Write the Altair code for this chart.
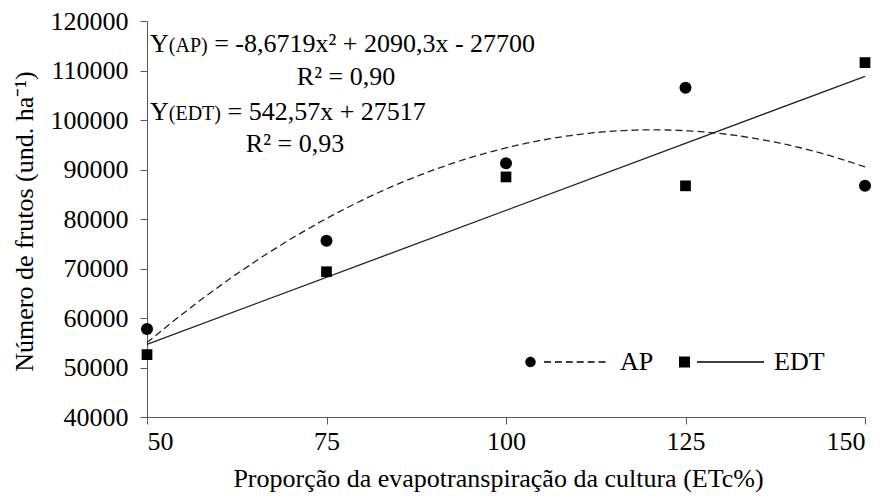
import altair as alt
import pandas as pd

# ---- data ----
x_etc = [50, 75, 100, 125, 150]
ap_values = [57800, 75600, 91250, 106500, 86700]
edt_values = [52600, 69350, 88500, 86700, 111600]
series_names = ["AP", "EDT"]
x_ticks = [50, 75, 100, 125, 150]
y_ticks = [40000, 50000, 60000, 70000, 80000, 90000, 100000, 110000, 120000]
eq_ap = "= -8,6719x² + 2090,3x - 27700"
r2_ap = "R² = 0,90"
eq_edt = "= 542,57x + 27517"
r2_edt = "R² = 0,93"
x_title = "Proporção da evapotranspiração da cultura (ETc%)"
y_title = "Número de frutos (und. ha⁻¹)"

df = pd.DataFrame({
    "x": x_etc + x_etc,
    "y": ap_values + edt_values,
    "serie": [series_names[0]] * len(x_etc) + [series_names[1]] * len(x_etc),
})

FONT = "'Liberation Serif', 'Times New Roman', Times, serif"
AX = "#595959"
W, H = 718, 396
FA = 26

xs = alt.Scale(domain=[x_ticks[0], x_ticks[-1]], nice=False, zero=False)
ys = alt.Scale(domain=[y_ticks[0], y_ticks[-1]], nice=False, zero=False)

x_enc = alt.X("x:Q", scale=xs, axis=alt.Axis(
    values=x_ticks, grid=False, domainColor=AX, tickColor=AX, tickSize=7,
    labelFont=FONT, labelFontSize=FA, labelColor="#000", labelPadding=4,
    title=x_title, titleFont=FONT, titleFontSize=FA, titleFontWeight="normal",
    titleColor="#000", titleBaseline="middle", titleY=61, titleX=351))
y_enc = alt.Y("y:Q", scale=ys, axis=alt.Axis(
    values=y_ticks, format="d", grid=False, domainColor=AX, tickColor=AX, tickSize=7,
    labelFont=FONT, labelFontSize=FA, labelColor="#000", labelPadding=12,
    title=y_title, titleFont=FONT, titleFontSize=FA, titleFontWeight="normal",
    titleColor="#000", titleBaseline="middle", titleAlign="center",
    titleX=-123, titleY=H / 2 + 2))

base = alt.Chart(df)

pts_ap = base.transform_filter(alt.datum.serie == "AP").mark_point(
    shape="circle", filled=True, size=144, color="black", opacity=1).encode(x=x_enc, y=y_enc)
pts_edt = base.transform_filter(alt.datum.serie == "EDT").mark_point(
    shape="square", filled=True, size=115, color="black", opacity=1).encode(x=x_enc, y=y_enc)

line_ap = base.transform_filter(alt.datum.serie == "AP").transform_regression(
    "x", "y", method="poly", order=2, extent=[x_ticks[0], x_ticks[-1]]
).mark_line(color="#222", strokeWidth=1.3, strokeDash=[7, 4]).encode(x=x_enc, y=y_enc)
line_edt = base.transform_filter(alt.datum.serie == "EDT").transform_regression(
    "x", "y", method="linear", extent=[x_ticks[0], x_ticks[-1]]
).mark_line(color="#222", strokeWidth=1.3).encode(x=x_enc, y=y_enc)

# ---- legend symbols (custom paths: marker + line sample) ----
SYM = 86.0
U = SYM / 2.0


def ux(px):
    return px / U - 1.0


def uy(py):
    return py / U


def rect(x0, x1, hh):
    return "M%.4f,%.4f L%.4f,%.4f L%.4f,%.4f L%.4f,%.4f Z" % (
        ux(x0), uy(-hh), ux(x1), uy(-hh), ux(x1), uy(hh), ux(x0), uy(hh))


def circle(cx, r):
    return "M%.4f,0 A%.4f,%.4f 0 1,0 %.4f,0 A%.4f,%.4f 0 1,0 %.4f,0 Z" % (
        ux(cx - r), r / U, r / U, ux(cx + r), r / U, r / U, ux(cx - r))


path_ap = circle(5.5, 5.2) + " " + " ".join(rect(19 + 10.9 * k, 26 + 10.9 * k, 0.65) for k in range(6))
path_edt = rect(0, 11, 5.5) + " " + rect(18, 85, 0.65)

legend_layer = base.transform_filter("false").mark_point(
    filled=True, color="black", opacity=1, size=SYM * SYM).encode(
    x=x_enc, y=y_enc,
    shape=alt.Shape("serie:N", scale=alt.Scale(domain=series_names, range=[path_ap, path_edt]),
                    legend=alt.Legend(orient="none", direction="horizontal", legendX=378,
                                      legendY=298, title=None, labelFont=FONT, labelFontSize=FA,
                                      labelColor="#000", labelOffset=9, columnPadding=25,
                                      symbolSize=SYM * SYM, symbolStrokeWidth=0,
                                      symbolFillColor="black", padding=0)))

# ---- equation annotations ----
one = pd.DataFrame({"a": [0]})
F = 26
FS = 20


def txt(s, x, y, size=F, align="left"):
    return alt.Chart(one).mark_text(text=s, font=FONT, fontSize=size, color="#000",
                                    align=align, baseline="alphabetic").encode(
        x=alt.value(x), y=alt.value(y))


wY = 0.722 * F
w_ap = (0.333 + 0.722 + 0.556 + 0.333) * FS
w_edt = (0.333 + 0.611 + 0.722 + 0.611 + 0.333) * FS
sp = 0.25 * F
x0 = 3

texts = [
    txt("Y", x0, 31), txt("(AP)", x0 + wY, 31, FS), txt(eq_ap, x0 + wY + w_ap + sp, 31),
    txt(r2_ap, 199, 64, align="center"),
    txt("Y", x0, 99), txt("(EDT)", x0 + wY, 99, FS), txt(eq_edt, x0 + wY + w_edt + sp, 99),
    txt(r2_edt, 148, 131, align="center"),
]

chart = alt.layer(line_ap, line_edt, pts_ap, pts_edt, legend_layer, *texts).properties(
    width=W, height=H,
    autosize=alt.AutoSizeParams(type="none"),
    padding={"left": 139, "top": 13, "right": 12, "bottom": 76},
).configure_view(stroke=None)

chart.save("out.html", embed_options={"renderer": "svg", "actions": False})
